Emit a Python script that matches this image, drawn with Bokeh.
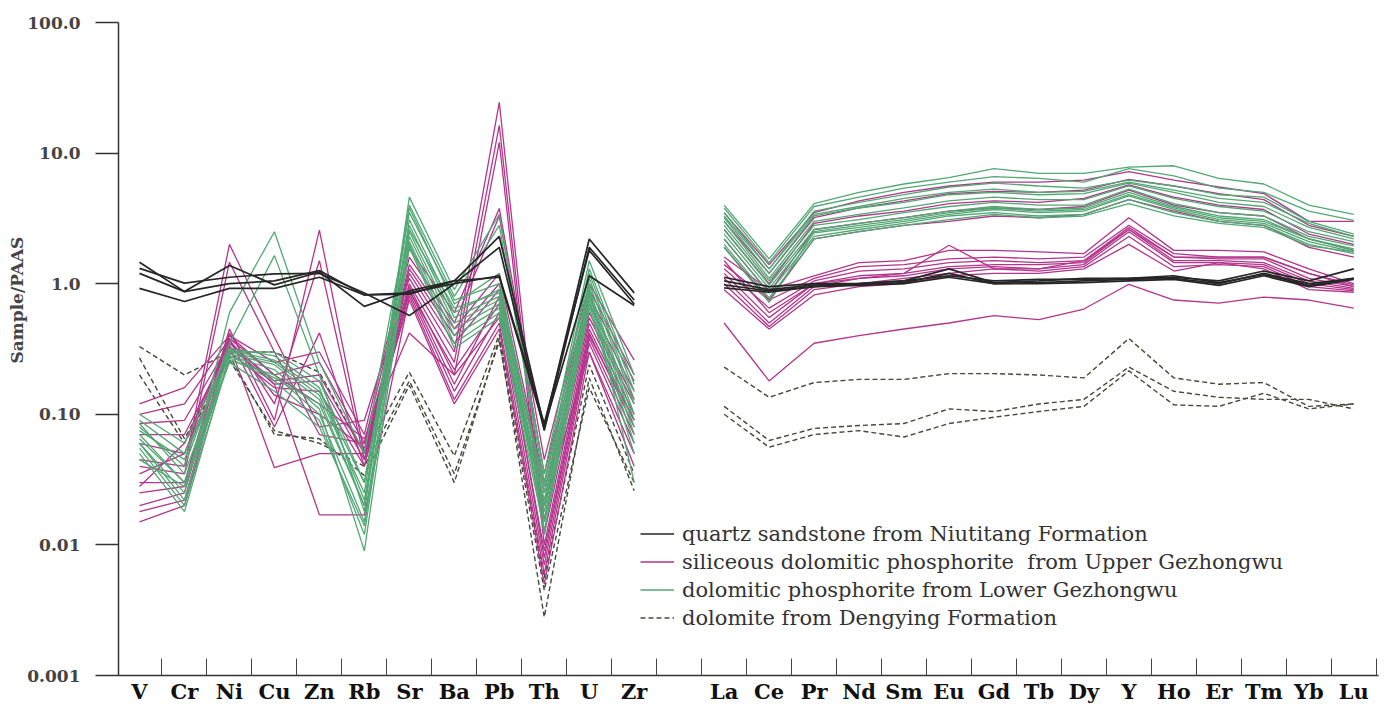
import math
from bokeh.plotting import figure
from bokeh.models import FixedTicker, Legend, LegendItem, Title
from bokeh.embed import file_html
from bokeh.resources import INLINE

# Element order along the x axis
trace_elements = ["V", "Cr", "Ni", "Cu", "Zn", "Rb", "Sr", "Ba", "Pb", "Th", "U", "Zr"]
ree_elements = ["La", "Ce", "Pr", "Nd", "Sm", "Eu", "Gd", "Tb", "Dy", "Y", "Ho", "Er", "Tm", "Yb", "Lu"]

# y tick positions and their printed labels
y_ticks = [0.001, 0.01, 0.1, 1, 10, 100]
y_tick_labels = ["0.001", "0.01", "0.10", "1.0", "10.0", "100.0"]

# Sample/PAAS ratios, one row per sample:
# first 12 values follow trace_elements, last 15 follow ree_elements
niutitang_sandstone = [
    [1.46, 0.87, 1.38, 0.98, 1.23, 0.67, 0.88, 1.05, 2.30, 0.080, 2.20, 0.85,
     1.12, 0.95, 1.00, 1.00, 1.05, 1.30, 1.02, 1.05, 1.10, 1.10, 1.12, 1.05, 1.25, 1.05, 1.30],
    [1.31, 1.01, 1.12, 1.19, 1.20, 0.85, 0.57, 1.00, 1.90, 0.075, 1.90, 0.75,
     1.05, 0.90, 0.98, 0.98, 1.02, 1.20, 1.00, 1.02, 1.05, 1.08, 1.10, 1.00, 1.20, 1.00, 1.10],
    [1.20, 0.87, 1.00, 1.05, 1.26, 0.82, 0.83, 1.05, 1.12, 0.080, 1.15, 0.68,
     0.98, 0.88, 0.95, 1.00, 1.05, 1.15, 1.05, 1.08, 1.08, 1.10, 1.15, 1.02, 1.18, 0.97, 1.10],
    [0.92, 0.73, 0.92, 0.92, 1.12, 0.82, 0.85, 1.00, 1.15, 0.085, 1.80, 0.70,
     0.93, 0.86, 0.95, 0.97, 1.00, 1.12, 1.00, 1.00, 1.02, 1.05, 1.08, 0.97, 1.15, 0.95, 1.08],
]

upper_gezhongwu = [
    [0.120, 0.160, 0.40, 0.25, 0.30, 0.070, 1.85, 0.60, 3.77, 0.045, 1.00, 0.26,
     3.5, 1.40, 3.5, 4.3, 5.0, 5.6, 6.0, 6.0, 6.2, 7.2, 6.2, 5.5, 4.9, 3.0, 3.0],
    [0.100, 0.120, 0.38, 0.20, 0.25, 0.060, 1.60, 0.50, 3.30, 0.035, 0.90, 0.20,
     3.0, 1.20, 3.2, 3.8, 4.3, 4.9, 5.1, 5.0, 5.2, 6.3, 5.6, 4.9, 4.4, 2.8, 2.3],
    [0.085, 0.090, 0.35, 0.18, 0.20, 0.050, 1.40, 0.45, 1.20, 0.030, 0.80, 0.18,
     2.6, 1.00, 2.9, 3.3, 3.6, 4.1, 4.3, 4.2, 4.5, 5.7, 4.6, 4.0, 3.7, 2.4, 2.0],
    [0.070, 0.070, 0.33, 0.17, 0.18, 0.045, 1.30, 0.40, 1.00, 0.025, 0.70, 0.15,
     2.2, 0.85, 2.6, 2.9, 3.2, 3.6, 3.8, 3.7, 3.9, 5.2, 4.0, 3.5, 3.3, 2.2, 1.8],
    [0.060, 0.050, 0.30, 0.16, 0.15, 0.040, 1.20, 0.35, 0.90, 0.020, 0.60, 0.13,
     1.9, 0.75, 2.2, 2.5, 2.8, 3.0, 3.3, 3.2, 3.4, 4.4, 3.6, 3.0, 2.8, 1.9, 1.6],
    [0.045, 0.040, 2.00, 0.39, 0.08, 0.090, 1.10, 0.30, 24.5, 0.015, 0.55, 0.12,
     1.6, 0.90, 1.15, 1.45, 1.5, 1.8, 1.8, 1.75, 1.7, 3.2, 1.8, 1.8, 1.75, 1.3, 1.0],
    [0.040, 0.035, 1.46, 0.30, 0.07, 0.060, 1.00, 0.25, 16.3, 0.012, 0.50, 0.10,
     1.4, 0.75, 1.10, 1.35, 1.4, 1.55, 1.6, 1.55, 1.6, 2.8, 1.7, 1.6, 1.6, 1.2, 0.98],
    [0.030, 0.030, 0.45, 0.09, 2.57, 0.050, 0.95, 0.20, 12.1, 0.010, 0.45, 0.09,
     1.3, 0.65, 1.05, 1.25, 1.3, 1.45, 1.5, 1.45, 1.5, 2.7, 1.6, 1.55, 1.55, 1.1, 0.95],
    [0.025, 0.028, 0.42, 0.12, 1.50, 0.045, 0.90, 0.17, 0.80, 0.008, 0.42, 0.08,
     1.2, 0.55, 1.00, 1.15, 1.2, 1.35, 1.4, 1.4, 1.45, 2.6, 1.5, 1.5, 1.45, 1.05, 0.92],
    [0.020, 0.025, 0.38, 0.08, 0.42, 0.040, 0.85, 0.15, 0.60, 0.007, 0.38, 0.07,
     1.1, 0.50, 0.95, 1.10, 1.15, 1.3, 1.35, 1.3, 1.4, 2.5, 1.45, 1.45, 1.4, 1.0, 0.90],
    [0.018, 0.022, 0.36, 0.17, 0.017, 0.017, 0.80, 0.13, 0.50, 0.006, 0.35, 0.06,
     1.0, 0.47, 0.90, 1.00, 1.1, 1.2, 1.3, 1.25, 1.35, 2.3, 1.35, 1.4, 1.35, 0.95, 0.88],
    [0.015, 0.020, 0.34, 0.039, 0.05, 0.050, 0.75, 0.12, 0.45, 0.005, 0.30, 0.05,
     0.9, 0.45, 0.82, 0.95, 1.0, 1.15, 1.2, 1.2, 1.3, 2.0, 1.25, 1.45, 1.3, 0.90, 0.86],
    [0.028, 0.060, 0.37, 0.14, 0.10, 0.055, 0.88, 0.22, 0.70, 0.009, 0.40, 0.09,
     1.5, 0.60, 1.00, 1.10, 1.2, 1.97, 1.3, 1.3, 1.5, 2.6, 1.6, 1.6, 1.6, 1.2, 0.95],
    [0.035, 0.050, 0.40, 0.20, 0.12, 0.065, 0.42, 0.20, 0.55, 0.020, 0.30, 0.04,
     0.5, 0.18, 0.35, 0.40, 0.45, 0.50, 0.57, 0.53, 0.64, 0.99, 0.75, 0.71, 0.79, 0.75, 0.65],
]

lower_gezhongwu = [
    [0.090, 0.050, 0.28, 0.19, 0.12, 0.020, 4.6, 0.90, 3.40, 0.035, 1.50, 0.20,
     4.0, 1.55, 4.1, 5.0, 5.8, 6.5, 7.6, 7.0, 7.0, 7.8, 8.0, 6.4, 5.8, 4.0, 3.4],
    [0.070, 0.030, 0.30, 0.25, 0.14, 0.025, 4.0, 0.80, 2.80, 0.030, 1.30, 0.17,
     3.8, 1.45, 3.9, 4.6, 5.4, 6.0, 6.6, 6.4, 6.0, 7.6, 6.7, 5.4, 5.0, 3.6, 3.05],
    [0.060, 0.025, 0.60, 2.50, 0.25, 0.050, 3.5, 0.75, 1.00, 0.028, 1.20, 0.15,
     3.5, 1.30, 3.6, 4.2, 4.8, 5.5, 5.9, 5.6, 5.4, 6.2, 5.6, 4.8, 4.6, 3.0, 2.4],
    [0.080, 0.040, 0.35, 1.64, 0.20, 0.018, 3.1, 0.60, 0.90, 0.025, 1.00, 0.12,
     3.2, 1.20, 3.3, 3.8, 4.2, 4.8, 5.0, 4.8, 4.9, 5.9, 5.0, 4.2, 3.9, 2.7, 2.2],
    [0.100, 0.060, 0.30, 0.30, 0.18, 0.030, 2.8, 0.55, 0.80, 0.022, 0.90, 0.10,
     3.0, 1.10, 3.0, 3.4, 3.8, 4.3, 4.6, 4.4, 4.4, 5.6, 4.5, 3.9, 3.6, 2.5, 2.1],
    [0.065, 0.030, 0.26, 0.20, 0.10, 0.015, 2.5, 0.50, 0.75, 0.020, 0.85, 0.09,
     2.8, 1.05, 2.8, 3.1, 3.5, 3.9, 4.2, 4.0, 4.0, 5.3, 4.1, 3.5, 3.3, 2.3, 1.95],
    [0.055, 0.020, 0.27, 0.18, 0.09, 0.012, 2.3, 0.45, 0.70, 0.018, 0.80, 0.08,
     2.6, 0.98, 2.6, 2.9, 3.2, 3.6, 3.9, 3.7, 3.8, 5.0, 3.9, 3.3, 3.1, 2.2, 1.85],
    [0.050, 0.018, 0.28, 0.22, 0.11, 0.009, 2.1, 0.40, 0.65, 0.016, 0.75, 0.07,
     2.4, 0.92, 2.45, 2.7, 3.0, 3.4, 3.7, 3.5, 3.6, 4.7, 3.7, 3.1, 2.9, 2.1, 1.75],
    [0.075, 0.045, 0.32, 0.28, 0.16, 0.022, 2.0, 0.35, 0.60, 0.015, 0.70, 0.06,
     2.2, 0.85, 2.3, 2.6, 2.9, 3.3, 3.5, 3.3, 3.4, 4.4, 3.5, 3.0, 2.8, 2.0, 1.7],
    [0.045, 0.028, 0.25, 0.15, 0.08, 0.014, 1.9, 0.32, 0.55, 0.013, 0.65, 0.05,
     2.0, 0.78, 2.2, 2.5, 2.8, 3.1, 3.4, 3.2, 3.3, 4.1, 3.3, 2.9, 2.7, 1.95, 1.75],
    [0.085, 0.035, 0.29, 0.24, 0.13, 0.020, 3.8, 0.70, 1.20, 0.012, 1.10, 0.13,
     1.9, 0.72, 2.5, 2.8, 3.1, 3.5, 3.8, 3.6, 3.7, 4.8, 3.8, 3.2, 3.0, 2.2, 1.8],
    [0.060, 0.022, 0.31, 0.26, 0.15, 0.030, 2.6, 0.65, 0.85, 0.020, 0.95, 0.03,
     3.3, 1.30, 3.4, 3.9, 4.5, 5.0, 5.3, 5.0, 5.1, 6.0, 5.2, 4.5, 4.2, 2.9, 2.3],
]

dengying_dolomite = [
    [0.33, 0.200, 0.30, 0.300, 0.210, 0.050, 0.210, 0.048, 0.41, 0.0056, 0.24, 0.035,
     0.230, 0.135, 0.175, 0.185, 0.185, 0.205, 0.205, 0.200, 0.190, 0.38, 0.190, 0.170, 0.175, 0.115, 0.120],
    [0.27, 0.065, 0.28, 0.070, 0.065, 0.034, 0.167, 0.030, 0.38, 0.0028, 0.19, 0.026,
     0.115, 0.063, 0.078, 0.082, 0.085, 0.110, 0.105, 0.120, 0.130, 0.23, 0.150, 0.135, 0.130, 0.130, 0.110],
    [0.20, 0.060, 0.26, 0.075, 0.060, 0.040, 0.180, 0.035, 0.36, 0.0045, 0.16, 0.030,
     0.100, 0.056, 0.070, 0.075, 0.067, 0.085, 0.095, 0.105, 0.115, 0.215, 0.118, 0.115, 0.145, 0.110, 0.120],
]

# x positions: trace elements 0..11, one empty slot, REE 13..27
trace_x = list(range(len(trace_elements)))
ree_x = list(range(len(trace_elements) + 1, len(trace_elements) + 1 + len(ree_elements)))
n_trace = len(trace_elements)

p = figure(width=1385, height=707, y_axis_type="log",
           x_range=(-0.467, 27.55), y_range=(0.001, 100),
           output_backend="svg", toolbar_location=None,
           min_border_left=118, min_border_right=7,
           min_border_top=22, min_border_bottom=32)
p.outline_line_color = None
p.xgrid.visible = False
p.ygrid.visible = False
p.background_fill_color = "white"


def add_group(rows, color, dash="solid", width=1.4):
    xs, ys = [], []
    for row in rows:
        xs.append(trace_x)
        ys.append(row[:n_trace])
        xs.append(ree_x)
        ys.append(row[n_trace:])
    return p.multi_line(xs, ys, line_color=color, line_width=width, line_dash=dash)


r_dol = add_group(dengying_dolomite, "#47473b", dash="5 3", width=1.4)
r_up = add_group(upper_gezhongwu, "#b3358c", width=1.3)
r_low = add_group(lower_gezhongwu, "#52a873", width=1.3)
r_ss = add_group(niutitang_sandstone, "#262626", width=1.7)

# y axis
yax = p.yaxis[0]
yax.ticker = FixedTicker(ticks=y_ticks)
yax.major_label_overrides = dict(zip(y_ticks, y_tick_labels))
yax.axis_line_color = "#333333"
yax.axis_line_width = 1.5
yax.major_tick_line_color = "#333333"
yax.major_tick_line_width = 1.5
yax.major_tick_out = 23
yax.major_tick_in = 0
yax.minor_tick_out = 0
yax.minor_tick_in = 0
yax.major_label_text_font = "DejaVu Serif"
yax.major_label_text_font_style = "bold"
yax.major_label_text_font_size = "17px"
yax.major_label_text_color = "#444444"
yax.major_label_standoff = 15

# axis title, set on the left beside the tick labels
p.add_layout(Title(text="Sample/PAAS", align="left", offset=312, standoff=-4,
                   text_font="DejaVu Serif", text_font_style="bold",
                   text_font_size="17px", text_color="#444444"), "left")

# x axis: labels on the elements, tick marks between them
xax = p.xaxis[0]
xax.ticker = FixedTicker(ticks=trace_x + ree_x,
                         minor_ticks=[i + 0.5 for i in trace_x] + [ree_x[0] - 0.5] + [i + 0.5 for i in ree_x])
xax.major_label_overrides = {x: name for x, name in zip(trace_x + ree_x, trace_elements + ree_elements)}
xax.axis_line_color = "#333333"
xax.axis_line_width = 1.5
xax.major_tick_in = 0
xax.major_tick_out = 0
xax.minor_tick_in = 17
xax.minor_tick_out = 0
xax.minor_tick_line_color = "#444444"
xax.minor_tick_line_width = 1
xax.major_label_text_font = "DejaVu Serif"
xax.major_label_text_font_style = "bold"
xax.major_label_text_font_size = "21px"
xax.major_label_text_color = "#111111"
xax.major_label_standoff = 3

legend = Legend(items=[
    LegendItem(label="quartz sandstone from Niutitang Formation", renderers=[r_ss]),
    LegendItem(label="siliceous dolomitic phosphorite  from Upper Gezhongwu", renderers=[r_up]),
    LegendItem(label="dolomitic phosphorite from Lower Gezhongwu", renderers=[r_low]),
    LegendItem(label="dolomite from Dengying Formation", renderers=[r_dol]),
], location=(522, 45))
legend.label_text_font = "DejaVu Serif"
legend.label_text_font_size = "21px"
legend.label_text_color = "#333333"
legend.glyph_width = 34
legend.glyph_height = 25
legend.label_height = 25
legend.label_standoff = 8
legend.spacing = 3
legend.padding = 0
legend.margin = 0
legend.border_line_color = None
legend.background_fill_alpha = 0
p.add_layout(legend)

open("out.html", "w").write(file_html(p, INLINE))
